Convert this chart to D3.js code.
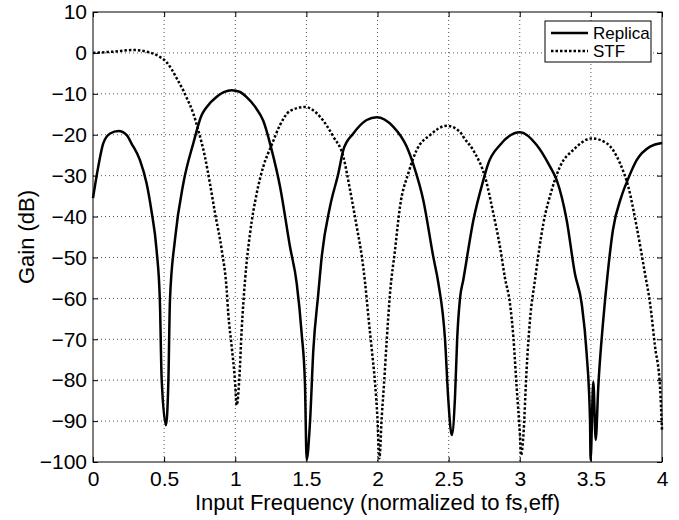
<!DOCTYPE html>
<html>
<head>
<meta charset="utf-8">
<script src="https://cdn.jsdelivr.net/npm/d3@7"></script>
<style>
  body { margin: 0; background: #fff; }
  svg text { font-family: "Liberation Sans", Arial, Helvetica, sans-serif; fill: #000; }
  .grid line { stroke: #555; stroke-width: 1; stroke-dasharray: 1,3; }
  .frame { fill: none; stroke: #000; stroke-width: 1; }
</style>
</head>
<body>
<div id="chart"></div>
<script>
// Tick values
const xTicks = [0, 0.5, 1, 1.5, 2, 2.5, 3, 3.5, 4];
const yTicks = [10, 0, -10, -20, -30, -40, -50, -60, -70, -80, -90, -100];

// Replica response: [frequency, gain dB]
const replica = [
    [0.0, -35.5], [0.037, -27.8], [0.072, -22.1], [0.12, -19.7], [0.18, -19.1],
    [0.237, -20.1], [0.27, -22.1], [0.33, -26.2], [0.377, -31.9], [0.41, -38.4],
    [0.447, -48.2], [0.47, -60.4], [0.483, -80], [0.513, -91], [0.53, -80],
    [0.541, -60.4], [0.576, -45.7], [0.635, -31.9], [0.705, -22.1], [0.764, -15.2],
    [0.8, -13.2], [0.87, -10.7], [0.92, -9.6], [0.975, -9.1], [1.03, -9.5],
    [1.08, -10.8], [1.14, -13.2], [1.197, -16.6], [1.256, -23.7], [1.315, -32.7], [1.385, -47.4],
    [1.432, -56.3], [1.467, -68.6], [1.49, -80.8], [1.502, -99.5], [1.525, -90.6],
    [1.549, -72.6], [1.584, -58.8], [1.608, -49.8], [1.666, -37.6], [1.725, -29.4],
    [1.76, -23.7], [1.83, -19.7], [1.924, -16.4], [1.994, -15.7], [2.11, -18],
    [2.205, -22.9], [2.257, -27.8], [2.322, -36], [2.392, -49.8], [2.428, -56.3],
    [2.475, -70.2], [2.498, -84.9], [2.522, -93.4], [2.545, -84], [2.56, -70],
    [2.58, -60], [2.603, -55.5], [2.674, -40.9], [2.744, -31.1], [2.779, -27],
    [2.861, -22.5], [3.002, -19.4], [3.119, -22.5], [3.213, -27.8], [3.26, -31.1],
    [3.33, -40.9], [3.388, -54], [3.435, -61.2], [3.47, -73.4], [3.494, -89.8],
    [3.498, -99.5], [3.517, -80.4], [3.534, -94.6], [3.552, -81.6], [3.587, -65.3],
    [3.618, -54], [3.655, -43.3], [3.714, -35.2], [3.758, -31.1], [3.822, -26.2],
    [3.916, -22.9], [4.0, -22]
];

// Signal transfer function
const stf = [
    [0, 0], [0.14, 0.3], [0.283, 0.7], [0.377, 0.3], [0.471, -1.0],
    [0.518, -2.3], [0.553, -4], [0.588, -6.2], [0.635, -9.2], [0.659, -11.0],
    [0.705, -14.8], [0.74, -18.9], [0.787, -25.4], [0.822, -31.9], [0.858, -39.2],
    [0.905, -48.2], [0.94, -58], [0.951, -63.7], [0.975, -71.8], [0.998, -80],
    [1.01, -86.1], [1.028, -80], [1.045, -67.8], [1.069, -55.5], [1.104, -44.1],
    [1.151, -34.3], [1.197, -27.8], [1.256, -22.5], [1.315, -17.6], [1.385, -14.2],
    [1.49, -13.2], [1.596, -15.6], [1.69, -20.5], [1.76, -25.4], [1.807, -33.5],
    [1.854, -42.5], [1.89, -49.8], [1.913, -56.3], [1.936, -64.5], [1.96, -72.6],
    [1.983, -80.8], [1.999, -88.9], [2.013, -99.1], [2.03, -88.9], [2.046, -80.8],
    [2.065, -70.2], [2.088, -58.8], [2.123, -48.2], [2.158, -37.6], [2.217, -29.4],
    [2.276, -23.7], [2.369, -20.1], [2.486, -17.8], [2.58, -19.3], [2.603, -20.5],
    [2.685, -24.5], [2.756, -30.3], [2.814, -39.2], [2.861, -47.4], [2.896, -55],
    [2.931, -61.2], [2.955, -69.4], [2.978, -81.6], [3.002, -93.8], [3.009, -98.3],
    [3.025, -93.8], [3.048, -77.5], [3.072, -65.3], [3.107, -55.5], [3.166, -41.7],
    [3.225, -33.5], [3.283, -27.8], [3.377, -23.7], [3.506, -20.9], [3.611, -22.1],
    [3.705, -27], [3.763, -32.7], [3.822, -42.5], [3.88, -53.9], [3.916, -61.2],
    [3.951, -71.8], [3.986, -81.6], [4.0, -92.2]
];

const legendItems = [
    { name: 'Replica', dash: null },
    { name: 'STF', dash: '2.5,2' }
];

let margin = { top: 12, left: 93, right: 17, bottom: 58 },
    width = 679 - margin.left - margin.right,
    height = 520 - margin.top - margin.bottom;

let svg = d3.select('#chart')
    .append('svg')
    .attr('width', 679)
    .attr('height', 520);

let g = svg.append('g')
    .attr('transform', 'translate(' + margin.left + ',' + margin.top + ')');

const xScale = d3.scaleLinear().domain([0, 4]).range([0, width]);
const yScale = d3.scaleLinear().domain([-100, 10]).range([height, 0]);

// Dotted grid
g.append('g').attr('class', 'grid')
    .selectAll('line').data(xTicks.slice(1, -1)).join('line')
    .attr('x1', d => xScale(d)).attr('x2', d => xScale(d))
    .attr('y1', 0).attr('y2', height);
g.append('g').attr('class', 'grid')
    .selectAll('line').data(yTicks.slice(1, -1)).join('line')
    .attr('y1', d => yScale(d)).attr('y2', d => yScale(d))
    .attr('x1', 0).attr('x2', width);

// Axes, ticks pointing inward like MATLAB
const tickLen = 5;
let xAxis = g.append('g')
    .attr('transform', 'translate(0,' + height + ')')
    .call(d3.axisBottom(xScale).tickValues(xTicks).tickSize(-tickLen).tickPadding(9).tickFormat(d3.format('')));
let xAxisTop = g.append('g')
    .call(d3.axisTop(xScale).tickValues(xTicks).tickSize(-tickLen).tickFormat(''));
let yAxis = g.append('g')
    .call(d3.axisLeft(yScale).tickValues(yTicks).tickSize(-tickLen).tickPadding(6));
let yAxisRight = g.append('g')
    .attr('transform', 'translate(' + width + ',0)')
    .call(d3.axisRight(yScale).tickValues(yTicks).tickSize(-tickLen).tickFormat(''));

[xAxis, xAxisTop, yAxis, yAxisRight].forEach(a => {
    a.select('.domain').remove();
    a.selectAll('line').attr('stroke', '#000');
    a.selectAll('text').style('font-size', '21px');
});

g.append('rect').attr('class', 'frame')
    .attr('x', 0).attr('y', 0).attr('width', width).attr('height', height);

// Curves
const line = d3.line()
    .x(d => xScale(d[0]))
    .y(d => yScale(d[1]))
    .curve(d3.curveMonotoneX);

g.append('path')
    .datum(replica)
    .attr('fill', 'none')
    .attr('stroke', '#000')
    .attr('stroke-width', 2.5)
    .attr('stroke-linejoin', 'round')
    .attr('d', line);

g.append('path')
    .datum(stf)
    .attr('fill', 'none')
    .attr('stroke', '#000')
    .attr('stroke-width', 2.5)
    .attr('stroke-dasharray', '2.5,2')
    .attr('d', line);

// Axis labels
svg.append('text')
    .attr('x', margin.left + width / 2)
    .attr('y', 510)
    .attr('text-anchor', 'middle')
    .style('font-size', '22px')
    .text('Input Frequency (normalized to fs,eff)');

svg.append('text')
    .attr('transform', 'translate(34,' + (margin.top + height / 2) + ') rotate(-90)')
    .attr('text-anchor', 'middle')
    .style('font-size', '22px')
    .text('Gain (dB)');

// Legend
let legend = g.append('g')
    .attr('transform', 'translate(' + (width - 117) + ',9)');
legend.append('rect')
    .attr('width', 106).attr('height', 41)
    .attr('fill', '#fff').attr('stroke', '#000').attr('stroke-width', 1);
let items = legend.selectAll('.item').data(legendItems).join('g')
    .attr('transform', (d, i) => 'translate(0,' + (12 + i * 18) + ')');
items.append('line')
    .attr('x1', 6).attr('x2', 43)
    .attr('stroke', '#000').attr('stroke-width', 2.5)
    .attr('stroke-dasharray', d => d.dash);
items.append('text')
    .attr('x', 48).attr('dy', '0.35em')
    .style('font-size', '17px')
    .text(d => d.name);
</script>
</body>
</html>
